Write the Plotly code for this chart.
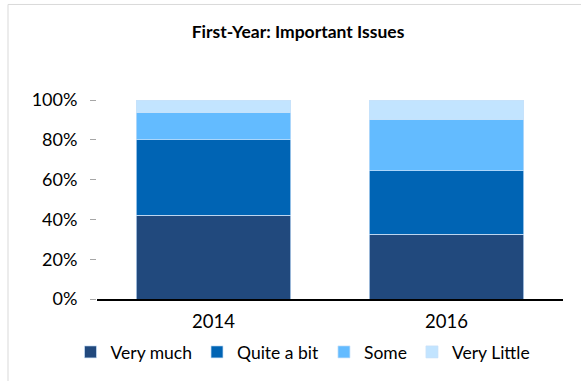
import plotly.graph_objects as go

years = ["2014", "2016"]
series_names = ["Very much", "Quite a bit", "Some", "Very Little"]
very_much = [42, 32.5]
quite_a_bit = [38, 32]
some = [13.5, 25.5]
very_little = [6.5, 10]
y_ticks = [0, 20, 40, 60, 80, 100]
y_tick_labels = ["0%", "20%", "40%", "60%", "80%", "100%"]
colors = ["#21497D", "#0064B4", "#63BBFF", "#C2E4FF"]

W, H = 581, 381
ml, mr, mt, mb = 97, 18, 100, 81

fig = go.Figure()
for name, vals, c in zip(series_names, [very_much, quite_a_bit, some, very_little], colors):
    fig.add_trace(go.Bar(
        x=years, y=vals, name=name,
        marker=dict(color=c, line=dict(color="rgba(200,225,250,0.9)", width=0.8)),
        width=0.664,
    ))

pw = W - ml - mr
ph = H - mt - mb
fig.update_layout(
    width=W, height=H,
    barmode="stack",
    plot_bgcolor="white", paper_bgcolor="white",
    margin=dict(l=ml, r=mr, t=mt, b=mb),
    font=dict(family="Lato, Carlito, Liberation Sans, sans-serif", color="#000000", size=17),
    title=dict(text="<b>First-Year: Important Issues</b>", x=298 / W, xanchor="center",
               y=1 - 32 / H, yanchor="middle", font=dict(size=17.5)),
    xaxis=dict(showline=True, linecolor="#000000", linewidth=1.5, ticks="",
               tickfont=dict(size=18.5), showgrid=False, ticklabelstandoff=5),
    yaxis=dict(range=[0, 100], tickvals=y_ticks, ticktext=y_tick_labels, tickmode="array",
               showgrid=False, showline=False, ticks="outside", ticklen=6, tickcolor="#A6A6A6",
               tickfont=dict(size=18), zeroline=False, ticklabelstandoff=9),
    legend=dict(orientation="h", x=(303 - ml) / pw, xanchor="center",
                y=-(352 - 300) / ph, yanchor="middle", font=dict(size=17.5),
                itemwidth=30, traceorder="normal"),
    bargap=0.33,
)
# outer frame (left edge at x=8, top at y=4, running off the right and bottom)
fig.add_shape(type="rect", xref="paper", yref="paper",
              x0=-(ml - 8) / pw, x1=1 + (mr + 5) / pw, y0=-(mb + 5) / ph, y1=1 + (mt - 4) / ph,
              line=dict(color="#D9D9D9", width=1), fillcolor="rgba(0,0,0,0)", layer="below")
fig.write_html("out.html", config={"displayModeBar": False},
               post_script="document.body.style.margin='0';")
